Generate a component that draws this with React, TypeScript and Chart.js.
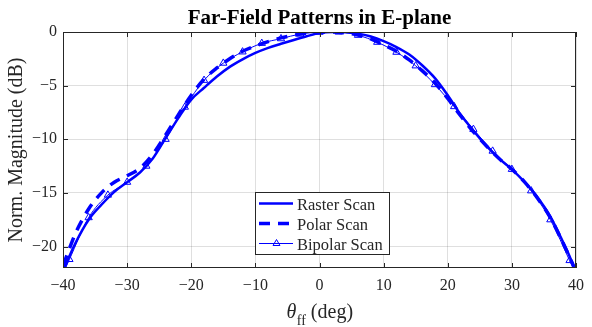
import { useEffect, useRef } from 'react';
import { Chart, registerables } from 'chart.js';

Chart.register(...registerables);

const chartTitle = 'Far-Field Patterns in E-plane';
const yAxisTitle = 'Norm. Magnitude (dB)';
const legendLabels = ['Raster Scan', 'Polar Scan', 'Bipolar Scan'];

const xTicks = [-40, -30, -20, -10, 0, 10, 20, 30, 40];
const yTicks = [-20, -15, -10, -5, 0];

const rasterAngles = [-40, -39, -38, -36, -34, -32, -30, -28, -26, -24, -22, -20, -18, -16, -14, -12, -10, -8, -6, -4, -2, 0, 2, 4, 6, 8, 10, 12, 14, 16, 18, 20, 22, 24, 26, 28, 30, 32, 34, 36, 38, 39, 40];
const rasterValues = [-22.4, -20.9, -19.6, -17.5, -16.1, -14.9, -14.0, -13.1, -11.8, -9.9, -8.0, -6.3, -5.2, -4.15, -3.25, -2.55, -1.95, -1.48, -1.1, -0.74, -0.4, -0.1, 0, -0.02, -0.15, -0.42, -0.85, -1.4, -2.1, -3.1, -4.3, -5.9, -7.7, -9.2, -10.6, -11.8, -12.8, -14.0, -15.4, -17.2, -19.6, -20.9, -22.4];

const polarAngles = [-40, -39, -38, -36, -34, -32, -30, -28, -26, -24, -22, -20, -18, -16, -14, -12, -10, -8, -6, -4, -2, 0, 2, 4, 6, 8, 10, 12, 14, 16, 18, 20, 22, 24, 26, 28, 30, 32, 34, 36, 38, 39, 40];
const polarValues = [-21.8, -20.2, -18.7, -16.5, -15.0, -14.0, -13.4, -12.7, -11.4, -9.6, -7.7, -5.9, -4.4, -3.35, -2.5, -1.8, -1.3, -0.9, -0.55, -0.3, -0.12, -0.02, 0, -0.08, -0.28, -0.65, -1.2, -1.8, -2.6, -3.6, -4.75, -6.2, -7.8, -9.3, -10.6, -11.8, -12.8, -14.0, -15.5, -17.3, -19.7, -21.0, -22.3];

const bipolarAngles = [-40, -39, -36, -33, -30, -27, -24, -21, -18, -15, -12, -9, -6, -3, 0, 3, 6, 9, 12, 15, 18, 21, 24, 27, 30, 33, 36, 39, 40];
const bipolarValues = [-22.5, -21.2, -17.3, -15.2, -14.0, -12.5, -10.0, -7.0, -4.5, -2.9, -1.85, -1.05, -0.62, -0.19, -0.02, 0, -0.3, -0.95, -1.88, -3.15, -4.9, -6.95, -9.07, -11.1, -12.8, -14.8, -17.5, -21.3, -22.6];
const bipolarMarked = [false, true, true, true, true, true, true, true, true, true, true, true, true, true, true, true, true, true, true, true, true, true, true, true, true, true, true, true, false];

const BLUE = '#0000ff';
const AXIS = '#262626';
const SERIF = '"Liberation Serif", "Times New Roman", serif';

const toPoints = (xs: number[], ys: number[]) => xs.map((x, i) => ({ x, y: ys[i] }));
const fmt = (v: number) => (v < 0 ? '\u2212' + Math.abs(v) : String(v));

const decorPlugin = {
  id: 'decor',
  afterDatasetsDraw(chart: any) {
    const ctx = chart.ctx as CanvasRenderingContext2D;
    const { left, right, top, bottom } = chart.chartArea;
    const xs = chart.scales.x;
    const ys = chart.scales.y;
    ctx.save();
    ctx.strokeStyle = AXIS;
    ctx.lineWidth = 1;
    ctx.strokeRect(Math.round(left) + 0.5, Math.round(top) + 0.5, Math.round(right - left) - 1, Math.round(bottom - top) - 1);
    const tl = 5;
    ctx.beginPath();
    xTicks.forEach((t) => {
      const px = Math.round(xs.getPixelForValue(t)) + 0.5;
      ctx.moveTo(px, bottom);
      ctx.lineTo(px, bottom - tl);
      ctx.moveTo(px, top);
      ctx.lineTo(px, top + tl);
    });
    yTicks.forEach((t) => {
      const py = Math.round(ys.getPixelForValue(t)) + 0.5;
      ctx.moveTo(left, py);
      ctx.lineTo(left + tl, py);
      ctx.moveTo(right, py);
      ctx.lineTo(right - tl, py);
    });
    ctx.stroke();
    ctx.restore();
  },
  afterDraw(chart: any) {
    const ctx = chart.ctx as CanvasRenderingContext2D;
    const { left, right } = chart.chartArea;
    ctx.save();
    const f1 = 'italic 20px ' + SERIF;
    const f2 = '14px ' + SERIF;
    const f3 = '20px ' + SERIF;
    ctx.font = f1;
    const w1 = ctx.measureText('\u03b8').width;
    ctx.font = f2;
    const w2 = ctx.measureText('ff').width;
    ctx.font = f3;
    const w3 = ctx.measureText(' (deg)').width;
    let x = (left + right) / 2 - (w1 + w2 + w3) / 2;
    ctx.fillStyle = AXIS;
    ctx.textBaseline = 'alphabetic';
    ctx.textAlign = 'left';
    ctx.font = f1;
    ctx.fillText('\u03b8', x, 318);
    x += w1 + 0.5;
    ctx.font = f2;
    ctx.fillText('ff', x, 325);
    x += w2;
    ctx.font = f3;
    ctx.fillText(' (deg)', x, 318);

    const bx = 255.5, by = 192.5, bw = 134, bh = 62;
    ctx.fillStyle = '#ffffff';
    ctx.fillRect(bx, by, bw, bh);
    ctx.strokeStyle = AXIS;
    ctx.lineWidth = 1;
    ctx.strokeRect(bx, by, bw, bh);
    const rows = [203.5, 223.5, 243.5];
    const ds = chart.data.datasets;
    rows.forEach((ry, i) => {
      const d = ds[i];
      ctx.save();
      ctx.strokeStyle = d.borderColor;
      ctx.lineWidth = d.borderWidth;
      ctx.setLineDash(d.borderDash || []);
      ctx.beginPath();
      ctx.moveTo(259, ry);
      ctx.lineTo(293, ry);
      ctx.stroke();
      ctx.restore();
      if (i === 2) {
        ctx.save();
        ctx.strokeStyle = BLUE;
        ctx.lineWidth = 1;
        const r = 4;
        const cx = 276.5;
        ctx.beginPath();
        ctx.moveTo(cx, ry - r);
        ctx.lineTo(cx + r * Math.sin((2 * Math.PI) / 3), ry - r * Math.cos((2 * Math.PI) / 3));
        ctx.lineTo(cx + r * Math.sin((4 * Math.PI) / 3), ry - r * Math.cos((4 * Math.PI) / 3));
        ctx.closePath();
        ctx.stroke();
        ctx.restore();
      }
      ctx.fillStyle = AXIS;
      ctx.font = '16.5px ' + SERIF;
      ctx.textBaseline = 'alphabetic';
      ctx.fillText(legendLabels[i], 297, ry + 6.5);
    });
    ctx.restore();
  },
};

export default function App() {
  const ref = useRef<HTMLCanvasElement | null>(null);
  useEffect(() => {
    if (!ref.current) return;
    const chart = new Chart(ref.current, {
      type: 'line',
      data: {
        datasets: [
          {
            label: legendLabels[0],
            data: toPoints(rasterAngles, rasterValues),
            borderColor: BLUE,
            borderWidth: 2.5,
            pointRadius: 0,
            cubicInterpolationMode: 'monotone',
            fill: false,
            order: 3,
          },
          {
            label: legendLabels[1],
            data: toPoints(polarAngles, polarValues),
            borderColor: BLUE,
            borderWidth: 3.5,
            borderDash: [11, 8],
            pointRadius: 0,
            cubicInterpolationMode: 'monotone',
            fill: false,
            order: 2,
          },
          {
            label: legendLabels[2],
            data: toPoints(bipolarAngles, bipolarValues),
            borderColor: BLUE,
            borderWidth: 1,
            pointStyle: 'triangle',
            pointRadius: bipolarMarked.map((m) => (m ? 4.2 : 0)),
            pointBorderColor: BLUE,
            pointBackgroundColor: 'rgba(0,0,0,0)',
            pointBorderWidth: 1,
            cubicInterpolationMode: 'monotone',
            fill: false,
            order: 1,
          },
        ] as any,
      },
      options: {
        animation: false,
        responsive: false,
        devicePixelRatio: 1,
        layout: { padding: { left: 0, right: 10, top: 0, bottom: 0 } },
        plugins: {
          legend: { display: false },
          tooltip: { enabled: false },
          title: {
            display: true,
            text: chartTitle,
            fullSize: false,
            color: '#000000',
            font: { family: SERIF, size: 21, weight: 'bold', lineHeight: 1.2 },
            padding: { top: 6, bottom: 0.8 },
          },
        },
        scales: {
          x: {
            type: 'linear',
            min: -40,
            max: 40,
            afterFit: (s: any) => {
              s.height = 59;
            },
            afterBuildTicks: (s: any) => {
              s.ticks = xTicks.map((v) => ({ value: v }));
            },
            ticks: {
              stepSize: 10,
              color: AXIS,
              padding: 8,
              maxRotation: 0,
              font: { family: SERIF, size: 16 },
              callback: (v: any) => fmt(Number(v)),
            },
            grid: { color: 'rgba(38,38,38,0.15)', drawTicks: false, lineWidth: 1 },
            border: { display: false },
          },
          y: {
            type: 'linear',
            min: -22,
            max: 0,
            afterFit: (s: any) => {
              s.width = 63;
            },
            afterBuildTicks: (s: any) => {
              s.ticks = yTicks.map((v) => ({ value: v }));
            },
            ticks: {
              stepSize: 5,
              includeBounds: false,
              color: AXIS,
              padding: 6,
              font: { family: SERIF, size: 16 },
              callback: (v: any) => fmt(Number(v)),
            },
            title: {
              display: true,
              text: yAxisTitle,
              color: AXIS,
              font: { family: SERIF, size: 20 },
              padding: { top: 5, bottom: 0 },
            },
            grid: { color: 'rgba(38,38,38,0.15)', drawTicks: false, lineWidth: 1 },
            border: { display: false },
          },
        },
      } as any,
      plugins: [decorPlugin],
    });
    return () => chart.destroy();
  }, []);
  return (
    <div style={{ position: 'fixed', left: 0, top: 0, width: 592, height: 327, background: '#ffffff' }}>
      <canvas ref={ref} width={592} height={327} style={{ display: 'block', width: 592, height: 327 }} />
    </div>
  );
}
